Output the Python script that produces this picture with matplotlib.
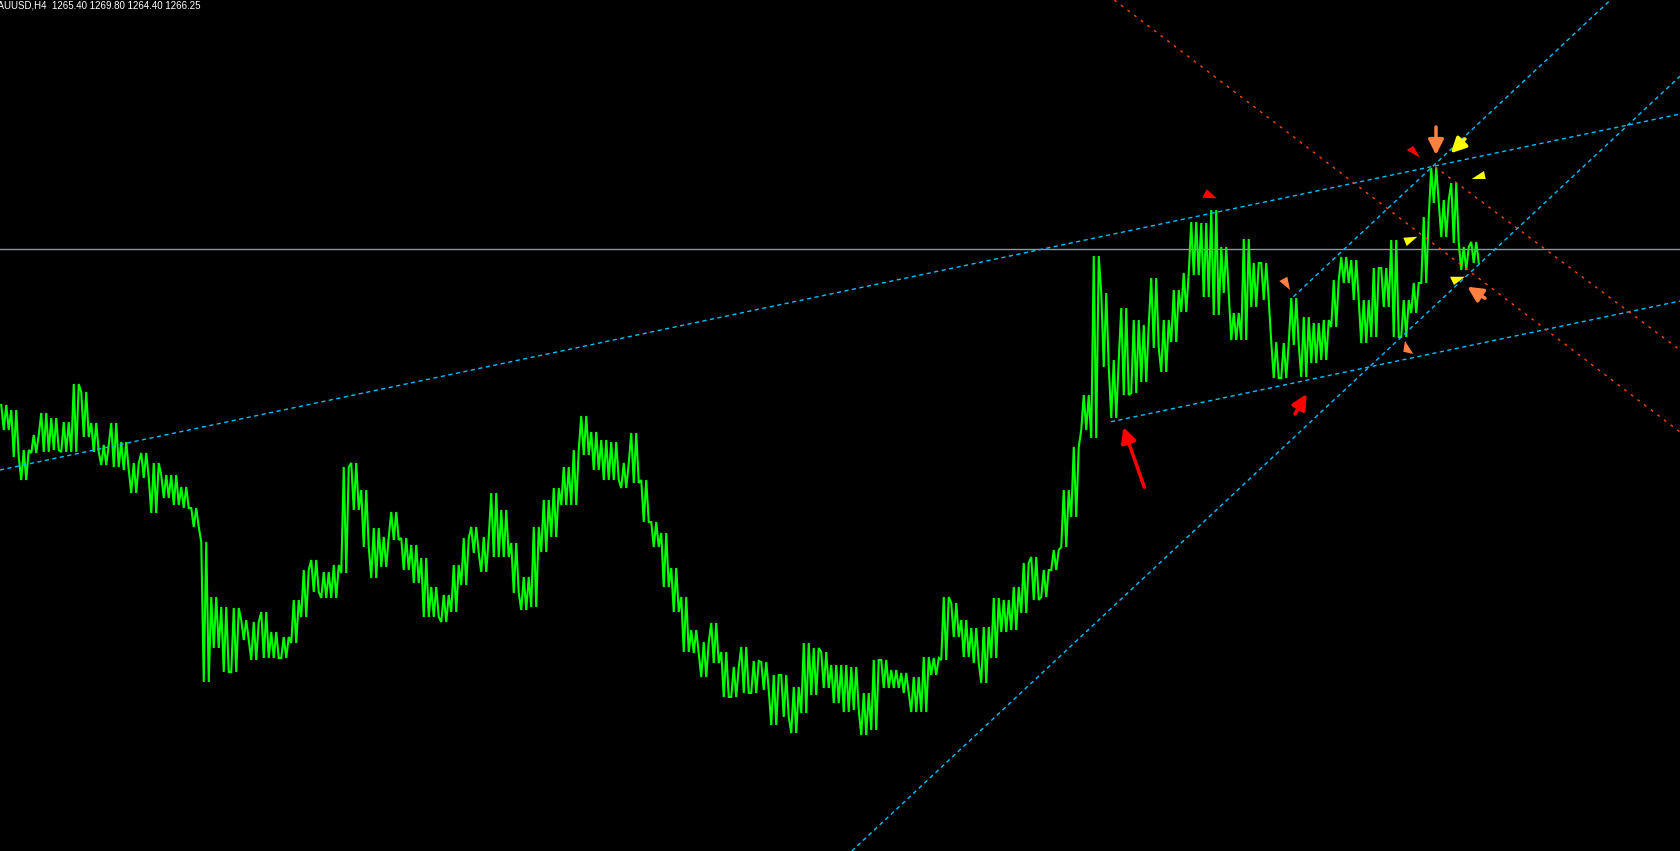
import matplotlib
matplotlib.use("Agg")
import matplotlib.pyplot as plt

# XAUUSD H4, one entry per block of bars: block high / block low
highs = [
    1204.0, 1202.0, 1186.0, 1192.0, 1200.8, 1198.8, 1197.2, 1212.4, 1209.2, 1196.8,
    1188.0, 1196.8, 1189.2, 1180.8, 1184.8, 1180.8, 1176.0, 1176.0, 1171.2, 1162.8,
    1149.2, 1127.2, 1123.2, 1122.8, 1118.0, 1117.2, 1121.2, 1113.2, 1111.2, 1126.0,
    1138.0, 1142.0, 1137.2, 1140.0, 1179.2, 1180.8, 1170.0, 1154.8, 1151.2, 1161.2,
    1150.8, 1148.0, 1142.8, 1131.2, 1128.0, 1140.0, 1150.8, 1155.2, 1151.2, 1168.8,
    1162.0, 1148.8, 1135.2, 1155.2, 1166.0, 1170.8, 1179.2, 1186.0, 1199.6, 1193.2,
    1190.0, 1189.2, 1180.8, 1192.8, 1174.0, 1157.2, 1152.8, 1138.8, 1127.2, 1114.0,
    1109.2, 1116.8, 1105.2, 1099.2, 1107.2, 1101.6, 1101.2, 1096.0, 1096.0, 1091.2,
    1108.8, 1106.8, 1105.2, 1100.0, 1100.0, 1099.2, 1088.8, 1102.0, 1102.0, 1098.0,
    1096.8, 1095.2, 1103.2, 1102.8, 1127.2, 1124.8, 1118.0, 1114.8, 1115.2, 1126.8,
    1126.0, 1131.2, 1140.8, 1143.2, 1138.0, 1146.0, 1170.0, 1187.2, 1208.0, 1263.6,
    1248.8, 1222.0, 1242.8, 1238.0, 1236.0, 1254.8, 1238.0, 1250.0, 1256.8, 1277.2,
    1276.8, 1282.0, 1267.2, 1240.8, 1270.4, 1260.8, 1260.8, 1229.2, 1228.8, 1246.8,
    1239.2, 1236.8, 1238.0, 1254.0, 1263.2, 1262.0, 1246.0, 1258.8, 1258.8, 1270.0,
    1246.0, 1252.8, 1279.2, 1298.8, 1286.0, 1292.8, 1267.2, 1269.2,
]
lows = [
    1194.0, 1183.2, 1174.0, 1184.8, 1185.2, 1186.0, 1185.2, 1185.2, 1191.2, 1185.2,
    1180.0, 1179.2, 1178.0, 1168.8, 1174.8, 1160.8, 1166.8, 1164.0, 1162.8, 1155.2,
    1093.2, 1106.8, 1097.2, 1097.2, 1110.0, 1102.0, 1102.8, 1102.8, 1102.8, 1108.8,
    1119.2, 1129.2, 1126.8, 1126.8, 1136.8, 1162.0, 1147.2, 1134.8, 1139.2, 1150.0,
    1138.0, 1132.8, 1119.2, 1119.2, 1117.2, 1121.2, 1132.0, 1144.8, 1137.2, 1143.2,
    1143.2, 1128.8, 1122.0, 1123.2, 1145.2, 1151.2, 1164.0, 1164.0, 1184.0, 1178.0,
    1174.0, 1174.0, 1170.8, 1172.8, 1157.2, 1147.2, 1131.2, 1121.2, 1105.2, 1104.8,
    1095.2, 1100.8, 1087.2, 1087.2, 1088.8, 1088.8, 1090.0, 1076.0, 1079.2, 1072.8,
    1080.8, 1088.0, 1090.8, 1084.8, 1081.2, 1082.0, 1072.0, 1074.0, 1090.8, 1090.8,
    1088.8, 1081.2, 1081.2, 1096.0, 1102.0, 1111.2, 1103.2, 1100.8, 1092.8, 1102.8,
    1113.2, 1114.0, 1120.8, 1126.0, 1127.2, 1138.0, 1147.2, 1159.2, 1194.0, 1190.8,
    1219.2, 1198.8, 1208.0, 1208.8, 1213.2, 1226.8, 1217.2, 1229.2, 1241.2, 1256.0,
    1247.2, 1240.0, 1248.8, 1230.0, 1230.0, 1243.2, 1246.0, 1214.8, 1214.8, 1228.0,
    1215.2, 1220.8, 1222.0, 1235.2, 1252.8, 1246.0, 1228.8, 1231.2, 1243.2, 1231.2,
    1231.2, 1240.8, 1252.8, 1284.8, 1271.2, 1268.8, 1258.0, 1260.8,
]
bid = 1266.25
header = "XAUUSD,H4  1265.40 1269.80 1264.40 1266.25"

# trend lines: (bar, price) anchors
blue_upper = [(0.0, 1178.0), (168.0, 1320.4)]
blue_lower = [(111.1, 1197.3), (168.0, 1245.6)]
blue_steep1 = [(85.18, 1025.6), (168.0, 1335.5)]
blue_steep2 = [(129.33, 1247.3), (161.05, 1366.0)]
red_line1 = [(111.43, 1366.0), (168.0, 1193.2)]
red_line2 = [(143.5, 1299.3), (168.0, 1226.0)]

# arrow marks (triangles) and drawn arrows (tail, tip)
red_marks = [
    [(120.23, 1286.9), (120.67, 1290.3), (121.67, 1286.7)],
    [(140.67, 1306.0), (141.33, 1307.6), (142.0, 1302.9)],
]
orange_marks = [
    [(127.93, 1253.6), (128.73, 1255.3), (129.0, 1250.0)],
    [(140.33, 1225.3), (140.5, 1229.6), (141.33, 1224.4)],
]
yellow_marks = [
    [(147.17, 1294.4), (148.4, 1297.6), (148.57, 1294.4)],
    [(140.33, 1270.9), (141.73, 1271.3), (140.67, 1267.6)],
    [(145.0, 1255.3), (146.5, 1255.3), (145.4, 1252.0)],
]
red_arrows = [((114.43, 1171.1), (112.33, 1195.1)), ((129.5, 1200.4), (130.67, 1208.4))]
orange_arrows = [((143.6, 1315.2), (143.6, 1304.0)), ((148.5, 1246.7), (146.73, 1251.3))]
yellow_arrows = [((146.5, 1310.4), (145.07, 1304.7))]

W, H = 1680, 851
fig = plt.figure(figsize=(W / 100, H / 100), dpi=100, facecolor="black")
ax = fig.add_axes([0, 0, 1, 1])
ax.set_facecolor("black")
ax.set_xlim(0, 168)
ax.set_ylim(1366 - 0.4 * H, 1366)
ax.axis("off")

# price: dense zigzag across each block's high/low range (3 swings per block)
xs, ys = [], []
n = len(highs)
for k in range(n):
    mid = (highs[k] + lows[k]) / 2
    nxt = (highs[k + 1] + lows[k + 1]) / 2 if k + 1 < n else mid
    a, b = (lows[k], highs[k]) if nxt > mid else (highs[k], lows[k])
    seq = [a, b, a, b] if k % 2 else [a, b, a, b]
    for j, v in enumerate(seq):
        xs.append(k + (j + 0.5) / len(seq))
        ys.append(v)
ax.plot(xs, ys, color="#00ff00", lw=1.5, solid_joinstyle="miter")

ax.axhline(bid, color="#8c96a0", lw=1.0)

for line in [blue_upper, blue_lower, blue_steep1, blue_steep2]:
    (x0, y0), (x1, y1) = line
    ax.plot([x0, x1], [y0, y1], color="#00bfff", lw=1.0, ls=(0, (3, 2.5)))
for line in [red_line1, red_line2]:
    (x0, y0), (x1, y1) = line
    ax.plot([x0, x1], [y0, y1], color="#ff4500", lw=1.0, ls=(0, (2, 4)))

for tri in red_marks:
    ax.fill(*zip(*tri), color="#ff0000", lw=0)
for tri in orange_marks:
    ax.fill(*zip(*tri), color="#ff8040", lw=0)
for tri in yellow_marks:
    ax.fill(*zip(*tri), color="#ffff00", lw=0)

for arrows, col in [(red_arrows, "#ff0000"), (orange_arrows, "#ff8040"), (yellow_arrows, "#ffff00")]:
    for tail, tip in arrows:
        ax.annotate("", xy=tip, xytext=tail,
                    arrowprops=dict(arrowstyle="-|>,head_length=0.9,head_width=0.45",
                                    color=col, lw=2.5, shrinkA=0, shrinkB=0))

fig.text(-9 / W, 1, header, color="white", fontsize=7,
         family="Liberation Sans", ha="left", va="top")

fig.savefig("out.png", dpi=100, facecolor="black")
